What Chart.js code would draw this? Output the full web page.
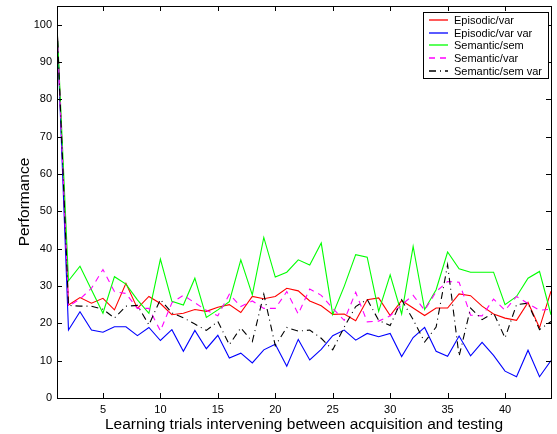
<!DOCTYPE html>
<html>
<head>
<meta charset="utf-8">
<script src="https://cdn.jsdelivr.net/npm/chart.js@4/dist/chart.umd.min.js"></script>
<style>
  html, body { margin: 0; padding: 0; background: #ffffff; }
  canvas { display: block; }
</style>
</head>
<body>
<canvas id="perfChart" width="557" height="434"></canvas>
<script>
var trials = [1, 2, 3, 4, 5, 6, 7, 8, 9, 10, 11, 12, 13, 14, 15, 16, 17, 18, 19, 20, 21, 22,
  23, 24, 25, 26, 27, 28, 29, 30, 31, 32, 33, 34, 35, 36, 37, 38, 39, 40, 41, 42, 43, 44];

var episodicVar = [100, 24.9, 26.9, 25.4, 26.7, 23.6, 30.7, 24.0, 27.2, 25.3, 22.3, 22.7, 23.7, 23.2, 24.3, 25.0,
  22.9, 27.2, 26.6, 27.2, 29.4, 28.7, 26.0, 24.7, 22.4, 22.5, 20.7, 26.3, 26.8, 22.1, 26.1, 24.1,
  22.1, 24.1, 24.1, 27.9, 27.4, 24.6, 22.5, 21.4, 20.8, 25.6, 18.8, 28.6];
var episodicVarVar = [100, 18.2, 23.1, 18.2, 17.6, 19.1, 19.1, 16.7, 18.9, 15.4, 18.3, 12.5, 18.1, 13.2, 16.8, 10.7,
  12.0, 9.4, 12.9, 14.4, 8.5, 15.7, 10.2, 13.0, 16.7, 18.2, 15.5, 17.3, 16.4, 17.3, 11.1, 16.2,
  18.9, 12.5, 11.2, 16.6, 11.3, 14.9, 11.4, 7.2, 5.7, 12.8, 5.7, 10.0];
var semanticSem = [100, 31.4, 35.3, 29.0, 22.7, 32.5, 30.5, 26.3, 22.7, 37.2, 25.9, 24.9, 32.1, 21.6, 23.6, 25.8,
  37.0, 27.6, 43.0, 32.4, 33.7, 37.0, 35.6, 41.5, 22.4, 29.9, 38.4, 37.7, 23.2, 33.0, 22.5, 40.6,
  23.7, 29.0, 39.1, 34.6, 33.7, 33.7, 33.7, 25.0, 27.2, 32.1, 33.9, 22.3];
var semanticVar = [100, 24.6, 26.5, 29.4, 34.4, 28.5, 28.0, 24.0, 24.0, 18.0, 25.5, 27.5, 25.5, 23.5, 22.0, 27.8,
  24.5, 26.0, 24.0, 24.0, 28.5, 22.5, 29.2, 27.5, 24.0, 20.8, 28.3, 20.4, 20.6, 22.0, 25.0, 27.5,
  23.5, 28.5, 31.2, 31.0, 22.2, 22.0, 26.5, 23.5, 27.2, 25.3, 23.5, 23.8];
var semanticSemVar = [100, 24.8, 24.6, 24.6, 23.8, 21.4, 24.6, 24.8, 19.6, 26.4, 22.8, 21.5, 19.8, 18.1, 20.5, 14.3,
  18.8, 15.1, 27.8, 14.0, 18.9, 17.9, 18.2, 16.0, 12.9, 19.0, 24.5, 26.4, 20.8, 19.4, 26.3, 21.0,
  15.0, 19.0, 35.7, 11.2, 24.1, 21.0, 22.8, 16.1, 25.0, 25.4, 18.3, 20.5];

var seriesNames = ['Episodic/var', 'Episodic/var var', 'Semantic/sem', 'Semantic/var', 'Semantic/sem var'];
var xTicks = [5, 10, 15, 20, 25, 30, 35, 40];
var yTicks = [0, 10, 20, 30, 40, 50, 60, 70, 80, 90, 100];

var fontFamily = '"Liberation Sans", Arial, Helvetica, sans-serif';

function points(values) {
  return trials.map(function (t, i) { return { x: t, y: values[i] }; });
}

function noScalePadding(scale) {
  scale.paddingTop = 0;
  scale.paddingBottom = 0;
  scale.paddingLeft = 0;
  scale.paddingRight = 0;
}

// box round the axes with inward ticks on all four sides, like matlab
var axesBox = {
  id: 'axesBox',
  afterDatasetsDraw: function (chart) {
    var ctx = chart.ctx;
    var a = chart.chartArea;
    var xs = chart.scales.x;
    var ys = chart.scales.y;
    var tl = 5;
    ctx.save();
    ctx.strokeStyle = '#000000';
    ctx.lineWidth = 1;
    ctx.beginPath();
    xTicks.forEach(function (v) {
      var px = Math.round(xs.getPixelForValue(v)) + 0.5;
      ctx.moveTo(px, a.bottom);
      ctx.lineTo(px, a.bottom - tl);
      ctx.moveTo(px, a.top);
      ctx.lineTo(px, a.top + tl);
    });
    yTicks.forEach(function (v) {
      var py = Math.round(ys.getPixelForValue(v)) + 0.5;
      ctx.moveTo(a.left, py);
      ctx.lineTo(a.left + tl, py);
      ctx.moveTo(a.right, py);
      ctx.lineTo(a.right - tl, py);
    });
    ctx.stroke();
    ctx.strokeRect(Math.round(a.left) + 0.5, Math.round(a.top) + 0.5,
      Math.round(a.right - a.left), Math.round(a.bottom - a.top));
    ctx.restore();
  }
};

// legend box in the top right corner of the axes
var boxLegend = {
  id: 'boxLegend',
  afterDraw: function (chart) {
    var ctx = chart.ctx;
    var left = 423.5, top = 12.5, w = 125, h = 66;
    ctx.save();
    ctx.fillStyle = '#ffffff';
    ctx.fillRect(left, top, w, h);
    ctx.strokeStyle = '#000000';
    ctx.lineWidth = 1;
    ctx.strokeRect(left, top, w, h);
    ctx.font = '11px ' + fontFamily;
    ctx.textBaseline = 'middle';
    ctx.textAlign = 'left';
    chart.data.datasets.forEach(function (ds, i) {
      var y = Math.round(20 + i * 12.67);
      ctx.strokeStyle = ds.borderColor;
      ctx.lineWidth = 1.3;
      ctx.setLineDash(ds.borderDash || []);
      ctx.beginPath();
      ctx.moveTo(429, y);
      ctx.lineTo(448, y);
      ctx.stroke();
      ctx.setLineDash([]);
      ctx.fillStyle = '#000000';
      ctx.fillText(ds.label, 454, y + 0.5);
    });
    ctx.restore();
  }
};

var ctx = document.getElementById('perfChart').getContext('2d');
var chart = new Chart(ctx, {
  type: 'line',
  data: {
    datasets: [
      { label: seriesNames[0], data: points(episodicVar), borderColor: '#ff0000', order: 5 },
      { label: seriesNames[1], data: points(episodicVarVar), borderColor: '#0000ff', order: 4 },
      { label: seriesNames[2], data: points(semanticSem), borderColor: '#00ff00', order: 3 },
      { label: seriesNames[3], data: points(semanticVar), borderColor: '#ff00ff', borderDash: [6, 5], order: 2 },
      { label: seriesNames[4], data: points(semanticSemVar), borderColor: '#000000', borderDash: [7, 4, 1, 4], order: 1 }
    ]
  },
  options: {
    responsive: false,
    animation: false,
    devicePixelRatio: 1,
    datasets: {
      line: { borderWidth: 1.1, pointRadius: 0, tension: 0, fill: false }
    },
    layout: { padding: { top: 6, right: 6, left: 0, bottom: 0 } },
    plugins: {
      legend: { display: false },
      tooltip: { enabled: false }
    },
    scales: {
      x: {
        type: 'linear',
        min: 1,
        max: 44,
        grid: { display: false, drawTicks: false },
        border: { display: false },
        afterBuildTicks: function (scale) {
          scale.ticks = xTicks.map(function (v) { return { value: v }; });
        },
        afterFit: function (scale) {
          scale.height = 36;
          noScalePadding(scale);
        },
        ticks: {
          padding: 5,
          color: '#000000',
          font: { family: fontFamily, size: 11 },
          maxRotation: 0
        },
        title: {
          display: true,
          text: 'Learning trials intervening between acquisition and testing',
          color: '#000000',
          font: { family: fontFamily, size: 15.5 },
          padding: { top: 0, bottom: 0 }
        }
      },
      y: {
        type: 'linear',
        min: 0,
        max: 105,
        grid: { display: false, drawTicks: false },
        border: { display: false },
        afterBuildTicks: function (scale) {
          scale.ticks = yTicks.map(function (v) { return { value: v }; });
        },
        afterFit: function (scale) {
          scale.width = 57;
          noScalePadding(scale);
        },
        ticks: {
          padding: 5,
          color: '#000000',
          font: { family: fontFamily, size: 11 }
        },
        title: {
          display: true,
          text: 'Performance',
          color: '#000000',
          font: { family: fontFamily, size: 15.5 },
          padding: { top: 15, bottom: 0 }
        }
      }
    }
  },
  plugins: [axesBox, boxLegend]
});
</script>
</body>
</html>
